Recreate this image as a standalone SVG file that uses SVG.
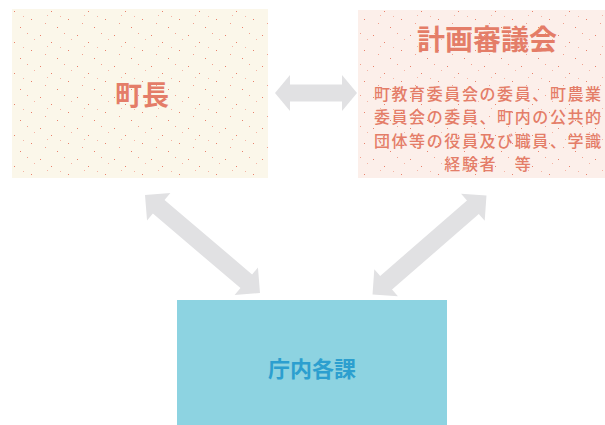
<svg xmlns="http://www.w3.org/2000/svg" width="605" height="425" viewBox="0 0 605 425">
<defs>
<pattern id="speck" width="37" height="31" patternUnits="userSpaceOnUse">
<rect x="3" y="4" width="1" height="1" fill="#e8826c"/>
<rect x="14" y="11" width="1" height="1" fill="#e8826c"/>
<rect x="27" y="2" width="1" height="1" fill="#f0a08e"/>
<rect x="31" y="19" width="1" height="1" fill="#e8826c"/>
<rect x="8" y="23" width="1" height="1" fill="#f0a08e"/>
<rect x="20" y="27" width="1" height="1" fill="#e8826c"/>
<rect x="23" y="16" width="1" height="1" fill="#f4b4a4"/>
<rect x="34" y="8" width="1" height="1" fill="#f4b4a4"/>
<rect x="10" y="15" width="1" height="1" fill="#f4b4a4"/>
</pattern>
<style>
.conn{fill:#e1e1e3}
.jp{font-family:"Noto Sans CJK JP","Noto Sans CJK SC",sans-serif;text-anchor:middle}
.red{fill:#e47d68}
.body{font-size:16px;font-weight:500;letter-spacing:1.6px}
</style>
</defs>
<rect width="605" height="425" fill="#ffffff"/>
<g id="chocho">
<rect x="12" y="9" width="256" height="169" fill="#fbf7ea"/>
<rect x="12" y="9" width="256" height="169" fill="url(#speck)"/>
<text class="jp red" x="142" y="105" font-size="27" font-weight="bold">町長</text>
</g>
<g id="shingikai">
<rect x="358" y="10" width="247" height="168" fill="#fcefea"/>
<rect x="358" y="10" width="247" height="168" fill="url(#speck)"/>
<text class="jp red" x="487" y="50" font-size="28" font-weight="bold">計画審議会</text>
<text class="jp red body" x="488.3" y="100">町教育委員会の委員、町農業</text>
<text class="jp red body" x="488.3" y="123.3">委員会の委員、町内の公共的</text>
<text class="jp red body" x="488.3" y="146.6">団体等の役員及び職員、学識</text>
<text class="jp red body" x="488.3" y="169.9">経験者　等</text>
</g>
<g id="kaku">
<rect x="177" y="300" width="270" height="125" fill="#8dd3e1"/>
<text class="jp" x="312" y="377" font-size="22" font-weight="bold" fill="#2c9fcf">庁内各課</text>
</g>
<g id="connectors">
<polygon class="conn" transform="translate(316,93)" points="-41,0 -26,-18 -26,-8.5 26,-8.5 26,-18 41,0 26,18 26,8.5 -26,8.5 -26,18"/>
<polygon class="conn" transform="translate(202.5,244) rotate(40.4)" points="-75.5,0 -57.5,-18 -57.5,-9 57.5,-9 57.5,-18 75.5,0 57.5,18 57.5,9 -57.5,9 -57.5,18"/>
<polygon class="conn" transform="translate(429.5,245) rotate(-41)" points="-75.5,0 -57.5,-18 -57.5,-9 57.5,-9 57.5,-18 75.5,0 57.5,18 57.5,9 -57.5,9 -57.5,18"/>
</g>
</svg>
